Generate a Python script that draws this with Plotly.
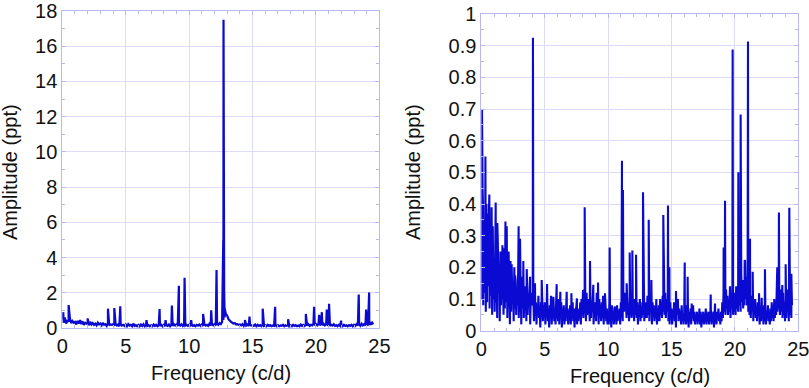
import plotly.graph_objects as go
from plotly.subplots import make_subplots

# ---------------- data ----------------
# Left panel: background spectrum, amplitude in 0.01 ppt, sampled every 0.1 c/d from 0 to 24.5
left_step = 0.1
left_noise_cppt = [
    50,30,60,25,45,35,55,28,40,30,
    35,20,40,25,45,22,38,18,30,25,
    30,15,35,20,28,18,25,15,30,20,
    25,15,30,18,22,12,28,15,20,18,
    22,12,25,15,20,10,24,14,18,12,
    20,10,22,14,18,10,25,12,16,10,
    18,10,20,12,22,10,18,12,16,10,
    16,10,20,12,18,10,15,12,18,10,
    18,10,16,12,20,10,18,12,22,14,
    20,12,18,14,22,12,20,14,18,12,
    18,10,20,12,16,10,18,14,20,12,
    20,12,22,14,18,12,24,14,20,15,
    22,15,25,18,28,22,35,45,60,80,
    70,50,40,35,30,25,28,20,22,18,
    20,15,22,12,25,14,20,12,18,14,
    16,12,20,10,18,12,16,10,20,12,
    15,10,18,12,16,10,14,12,18,10,
    16,10,14,12,18,10,15,12,16,10,
    15,10,18,12,16,10,14,10,20,12,
    18,12,20,14,22,12,18,15,25,14,
    22,15,25,14,28,16,24,15,22,14,
    20,12,18,14,22,12,16,10,18,12,
    16,10,18,12,15,10,16,12,18,10,
    18,12,22,14,20,12,24,15,22,14,
    25,15,30,18,35,20,
]
# Left panel: discrete peaks (frequency c/d, amplitude ppt)
left_peak_freq = [0.08, 0.5, 2.0, 3.6, 4.1, 4.57, 6.64, 7.67, 8.14, 8.64, 9.19, 9.64,
                  10.16, 11.1, 11.74, 12.16, 12.62, 12.66, 12.69, 12.71, 12.73, 12.76, 12.8,
                  14.4, 14.76, 15.8, 16.78, 17.8, 19.2, 19.85, 20.25, 20.46, 20.85,
                  21.03, 21.98, 23.37, 23.95, 24.19]
left_peak_amp = [0.9, 1.3, 0.55, 1.1, 1.13, 1.23, 0.45, 1.08, 0.45, 1.27, 2.4, 2.85,
                 0.45, 0.8, 1.0, 3.3, 1.2, 2.5, 5.0, 17.5, 4.8, 2.2, 1.1,
                 0.45, 0.65, 1.1, 1.2, 0.5, 0.8, 1.2, 0.75, 0.9, 1.05,
                 1.38, 0.42, 1.9, 1.05, 2.02]

# Right panel: background spectrum, amplitude in 0.01 ppt, sampled every 0.05 c/d from 0 to 24.5
right_step = 0.05
right_noise_cppt = [
    30,10,45,8,35,12,28,6,40,9,25,14,38,7,30,11,27,5,33,10,
    22,6,30,9,18,4,28,12,20,3,25,8,24,10,17,5,26,7,21,9,
    19,4,23,8,15,2,22,6,17,9,14,3,20,7,16,5,12,8,18,4,
    15,6,13,2,17,7,11,4,14,9,12,3,15,5,10,8,13,2,11,9,
    12,8,10,3,13,6,9,2,8,5,11,4,7,1,9,6,10,3,8,5,
    9,2,7,5,10,3,6,1,8,4,11,2,7,5,9,3,6,2,8,4,
    7,3,10,2,6,5,9,1,7,4,8,2,6,3,9,5,7,2,6,4,
    8,2,6,4,9,3,7,1,5,6,8,2,7,3,6,4,9,2,10,5,
    11,4,13,6,9,3,12,5,10,7,8,3,11,4,9,6,10,2,8,5,
    9,3,12,5,8,2,10,6,7,3,9,4,11,2,8,5,6,3,7,2,
    6,2,9,4,5,1,8,3,6,2,7,4,5,2,8,3,6,4,7,2,
    9,5,8,3,10,6,12,7,9,4,11,5,8,3,10,6,7,4,9,5,
    8,3,10,5,7,4,9,2,8,5,10,3,7,4,9,5,6,3,8,4,
    9,4,11,5,8,3,10,6,7,2,9,5,8,3,7,4,10,2,6,3,
    8,3,10,5,9,4,11,6,13,5,12,4,10,6,8,3,7,2,9,4,
    7,2,6,4,9,3,8,1,6,5,10,3,7,4,6,2,8,3,5,2,
    6,3,8,2,7,4,5,1,6,3,7,2,5,4,8,3,6,2,5,3,
    6,2,5,3,7,2,6,1,5,3,6,2,4,3,7,2,5,3,6,2,
    6,3,7,2,5,4,6,1,7,3,5,2,6,4,7,3,5,2,6,3,
    9,4,12,6,10,5,13,7,11,5,9,6,12,4,10,7,14,5,11,6,
    12,5,14,7,11,6,15,8,13,6,18,9,16,7,14,8,22,10,17,8,
    14,6,12,5,10,4,11,6,9,3,8,5,10,4,7,3,9,5,8,2,
    7,3,9,4,6,2,8,3,7,2,6,4,8,3,5,2,7,3,9,4,
    8,3,10,4,9,5,12,6,14,7,11,5,13,6,10,4,12,5,9,3,
    10,4,13,6,11,3,9,5,12,4,8,
]
# Right panel: discrete peaks (frequency c/d, amplitude ppt)
right_peak_freq = [0.01, 0.05, 0.13, 0.32, 0.47, 0.63, 0.81, 1.13, 1.26, 1.66, 1.9, 2.0,
                   2.15, 2.39, 2.66, 2.94, 3.05, 3.31, 3.58, 3.84, 4.07, 4.23, 4.76,
                   5.18, 5.68, 5.94, 6.23, 6.73, 7.1, 7.54, 8.02, 8.15, 8.57, 8.83,
                   9.2, 9.75, 10.12, 10.54, 11.09, 11.17, 11.46, 11.7, 11.91, 12.2,
                   12.75, 13.2, 13.41, 14.35, 14.72, 14.83, 15.35, 16.04, 16.27,
                   16.59, 18.09, 18.43, 19.11, 19.22, 19.61, 19.82, 20.27, 20.45,
                   20.77, 21.03, 21.19, 21.4, 21.9, 22.11, 22.37, 23.34, 23.47,
                   23.74, 24.0, 24.29, 24.45]
right_peak_amp = [0.57, 0.70, 0.39, 0.55, 0.37, 0.43, 0.39, 0.405, 0.34, 0.27, 0.345, 0.33,
                  0.25, 0.21, 0.175, 0.33, 0.29, 0.22, 0.195, 0.17, 0.925, 0.15, 0.16,
                  0.147, 0.107, 0.147, 0.123, 0.123, 0.118, 0.102, 0.128, 0.39, 0.22, 0.145,
                  0.152, 0.118, 0.263, 0.076, 0.537, 0.444, 0.15, 0.247, 0.253, 0.24,
                  0.437, 0.35, 0.16, 0.365, 0.395, 0.2, 0.125, 0.215, 0.17,
                  0.086, 0.114, 0.086, 0.263, 0.41, 0.14, 0.888, 0.5, 0.683,
                  0.223, 0.913, 0.29, 0.186, 0.118, 0.104, 0.194, 0.2, 0.373,
                  0.144, 0.21, 0.388, 0.18]

x_tick_vals = [0, 5, 10, 15, 20, 25]
left_y_ticks = [0, 2, 4, 6, 8, 10, 12, 14, 16, 18]
right_y_ticks = [0, 0.1, 0.2, 0.3, 0.4, 0.5, 0.6, 0.7, 0.8, 0.9, 1]
right_y_labels = ["0", "0.1", "0.2", "0.3", "0.4", "0.5", "0.6", "0.7", "0.8", "0.9", "1"]


def build_series(step, noise_cppt, pk_f, pk_a):
    pts = [(round(i * step, 4), v / 100.0) for i, v in enumerate(noise_cppt)]
    pts += list(zip(pk_f, pk_a))
    pts.sort(key=lambda p: p[0])
    return [p[0] for p in pts], [p[1] for p in pts]


lx, ly = build_series(left_step, left_noise_cppt, left_peak_freq, left_peak_amp)
rx, ry = build_series(right_step, right_noise_cppt, right_peak_freq, right_peak_amp)

# ---------------- figure ----------------
LINE = "#0a0ad2"
FRAME = "#b8b8f2"
GRID = "#dcdcfa"
FONT = "Liberation Sans, Arial, sans-serif"
TXT = "#111"

fig = make_subplots(rows=1, cols=2)
fig.add_trace(go.Scatter(x=lx, y=ly, mode="lines", line=dict(color=LINE, width=2.2),
                         showlegend=False, hoverinfo="skip"), row=1, col=1)
fig.add_trace(go.Scatter(x=rx, y=ry, mode="lines", line=dict(color=LINE, width=2.1),
                         showlegend=False, hoverinfo="skip"), row=1, col=2)

common_axis = dict(showline=True, linecolor=FRAME, linewidth=1, mirror="allticks",
                   showgrid=True, gridcolor=GRID, gridwidth=1, zeroline=False,
                   ticks="inside", ticklen=4, tickcolor=FRAME, automargin=False,
                   ticklabeloverflow="allow",
                   tickfont=dict(family=FONT, size=20, color=TXT))
minor_x = dict(dtick=1, ticks="inside", ticklen=3, tickcolor=FRAME, showgrid=False)

fig.update_layout(
    width=809, height=388,
    margin=dict(l=0, r=0, t=0, b=0, autoexpand=False),
    paper_bgcolor="white", plot_bgcolor="white",
    font=dict(family=FONT, color=TXT),
    xaxis=dict(domain=[0.077, 0.469], range=[0, 25], tickvals=x_tick_vals,
               minor=minor_x, **common_axis),
    yaxis=dict(domain=[0.1546, 0.9716], range=[0, 18], tickvals=left_y_ticks,
               minor=dict(dtick=1, ticks="inside", ticklen=3, tickcolor=FRAME, showgrid=False),
               **common_axis),
    xaxis2=dict(domain=[0.595, 0.9868], range=[0, 25], tickvals=x_tick_vals,
                minor=minor_x, **common_axis),
    yaxis2=dict(domain=[0.1477, 0.9639], range=[0, 1], tickvals=right_y_ticks,
                ticktext=right_y_labels,
                minor=dict(dtick=0.05, ticks="inside", ticklen=3, tickcolor=FRAME, showgrid=False),
                **common_axis),
)

title_font = dict(family=FONT, size=20, color=TXT)
fig.add_annotation(text="Frequency (c/d)", x=(0.077 + 0.469) / 2, y=1 - 373 / 388,
                   xref="paper", yref="paper", showarrow=False, font=title_font,
                   xanchor="center", yanchor="middle")
fig.add_annotation(text="Frequency (c/d)", x=(0.595 + 0.9868) / 2, y=1 - 376 / 388,
                   xref="paper", yref="paper", showarrow=False, font=title_font,
                   xanchor="center", yanchor="middle")
fig.add_annotation(text="Amplitude (ppt)", x=10 / 809, y=1 - 172 / 388, textangle=-90,
                   xref="paper", yref="paper", showarrow=False, font=title_font,
                   xanchor="center", yanchor="middle")
fig.add_annotation(text="Amplitude (ppt)", x=413 / 809, y=1 - 172 / 388, textangle=-90,
                   xref="paper", yref="paper", showarrow=False, font=title_font,
                   xanchor="center", yanchor="middle")

# remove the default page margin so the 809x388 figure fills the window exactly
fig.write_html("out.html",
               config={"displayModeBar": False},
               post_script="document.body.style.margin='0';document.body.style.overflow='hidden';")
